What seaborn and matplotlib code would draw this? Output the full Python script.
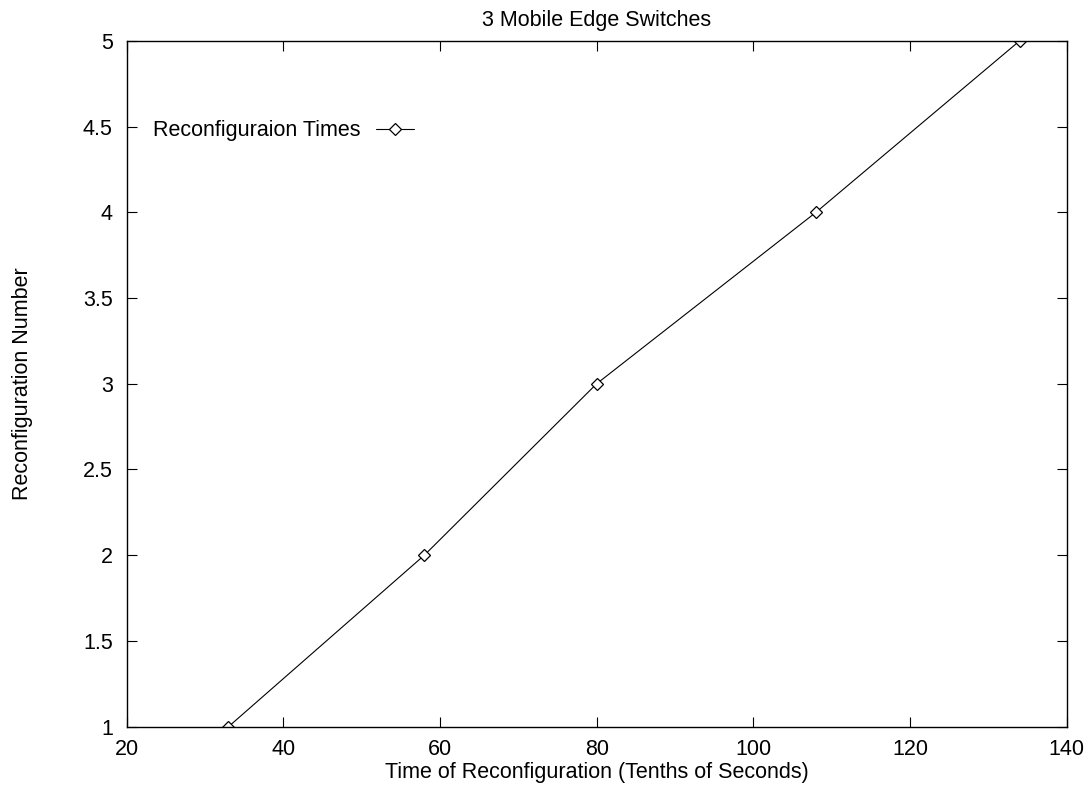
import pandas as pd
import matplotlib
matplotlib.use("Agg")
import matplotlib.pyplot as plt
import seaborn as sns

reconf_time = [33, 58, 80, 108, 134]
reconf_number = [1, 2, 3, 4, 5]

df = pd.DataFrame({"Time": reconf_time, "Number": reconf_number})

sns.set_style("ticks")
plt.rcParams["font.family"] = ["Liberation Sans", "DejaVu Sans"]
plt.rcParams["text.color"] = "black"
plt.rcParams["axes.labelcolor"] = "black"

fs = 15.5

fig = plt.figure(figsize=(10.9, 7.85), dpi=100)
ax = fig.add_axes([0.1162, 0.0743, 0.9786 - 0.1162, 0.948 - 0.0743])

sns.lineplot(data=df, x="Time", y="Number", ax=ax, color="black",
             linewidth=0.8, marker="D", markersize=6,
             markerfacecolor="white", markeredgecolor="black",
             markeredgewidth=0.9, label="Reconfiguraion Times")

ax.set_xlim(20, 140)
ax.set_ylim(1, 5)
ax.set_xticks([20, 40, 60, 80, 100, 120, 140])
ax.set_yticks([1, 1.5, 2, 2.5, 3, 3.5, 4, 4.5, 5])
ax.set_yticklabels(["1", "1.5", "2", "2.5", "3", "3.5", "4", "4.5", "5"])

ax.tick_params(direction="in", length=7.2, width=0.8, top=True, right=True,
               labelsize=fs, colors="black")
ax.tick_params(axis="x", pad=9)
ax.tick_params(axis="y", pad=10)
for s in ax.spines.values():
    s.set_linewidth(1.0)
    s.set_color("black")

ax.set_title("3 Mobile Edge Switches", fontsize=fs, pad=11, color="black")
ax.set_xlabel("Time of Reconfiguration (Tenths of Seconds)", fontsize=fs, labelpad=1)
ax.set_ylabel("Reconfiguration Number", fontsize=fs)
ax.yaxis.set_label_coords(-0.1, 0.5)

ax.legend(loc="center left", bbox_to_anchor=(0.028, 0.869), frameon=False,
          markerfirst=False, fontsize=fs, handlelength=1.77, handletextpad=0.7,
          borderpad=0, borderaxespad=0)

fig.savefig("out.png", dpi=100)
